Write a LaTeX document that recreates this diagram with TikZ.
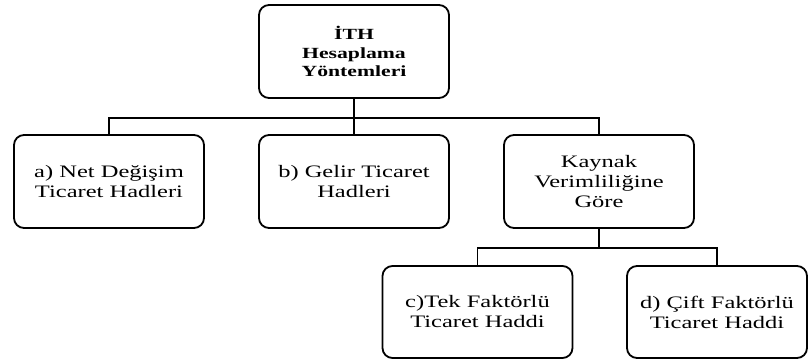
\documentclass[tikz,border=0pt]{standalone}
\usepackage{fontspec}
\setmainfont[FakeStretch=1.4]{Liberation Serif}
\begin{document}
\begin{tikzpicture}[x=1pt,y=1pt,
  box/.style={draw,line width=1.8pt,rounded corners=10pt,minimum width=190pt,minimum height=93pt,
    inner sep=0pt,align=center,font=\fontsize{17.5}{20}\selectfont},
  conn/.style={line width=1.8pt}]
  \useasboundingbox (0,0) rectangle (808,-361);
  \node[box,font=\fontsize{15.5}{18.3}\selectfont\bfseries] (ith) at (354,-51.5) {İTH\\Hesaplama\\Yöntemleri};
  \node[box] (net) at (109,-181.5) {a) Net Değişim\\Ticaret Hadleri};
  \node[box] (gelir) at (354,-181.5) {b) Gelir Ticaret\\Hadleri};
  \node[box] (kaynak) at (599,-181.5) {Kaynak\\Verimliliğine\\Göre};
  \node[box,minimum height=92pt] (tek) at (477.5,-312) {c)Tek Faktörlü\\Ticaret Haddi};
  \node[box,minimum width=180pt,minimum height=92pt] (cift) at (717,-312) {d) Çift Faktörlü\\Ticaret Haddi};
  \coordinate (j1) at (354,-118);
  \coordinate (j2) at (599,-248);
  \draw[conn] (ith) -- (j1);
  \foreach \n in {net,gelir,kaynak} \draw[conn] (j1) -| (\n);
  \draw[conn] (kaynak) -- (j2);
  \foreach \n in {tek,cift} \draw[conn] (j2) -| (\n);
\end{tikzpicture}
\end{document}
